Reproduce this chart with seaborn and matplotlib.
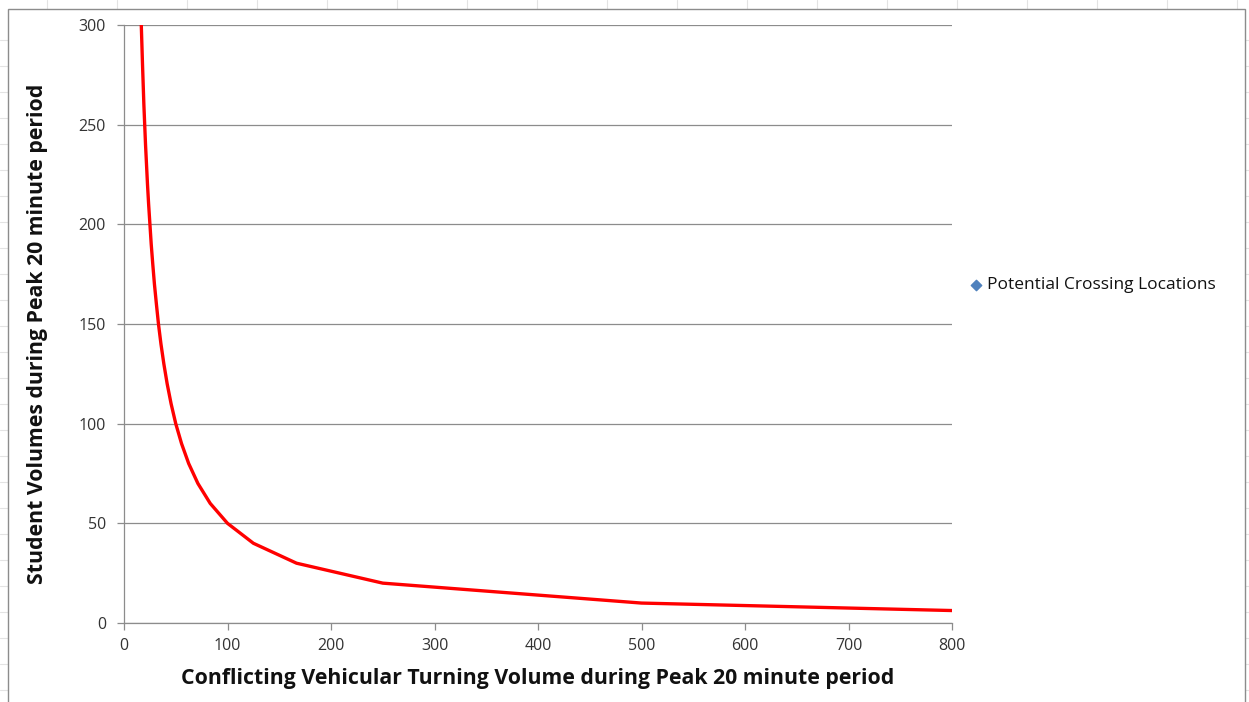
import matplotlib
matplotlib.use("Agg")
import matplotlib.pyplot as plt
import seaborn as sns
import pandas as pd
from matplotlib.patches import Rectangle
from matplotlib.lines import Line2D

# Data
turning_volume = [16.7, 17.9, 19.2, 20.0, 20.8, 22.7, 23.8, 26.3, 27.8, 29.4, 31.3, 33.3,
                  35.7, 38.5, 41.7, 45.5, 50.0, 55.6, 62.5, 71.4, 83.3, 100.0, 125.0,
                  166.7, 250.0, 500.0, 800.0]
student_volume = [300, 280, 260, 250, 240, 220, 210, 190, 180, 170, 160, 150,
                  140, 130, 120, 110, 100, 90, 80, 70, 60, 50, 40,
                  30, 20, 10, 6.25]
x_ticks = [0, 100, 200, 300, 400, 500, 600, 700, 800]
y_ticks = [0, 50, 100, 150, 200, 250, 300]
legend_label = "Potential Crossing Locations"
x_label = "Conflicting Vehicular Turning Volume during Peak 20 minute period"
y_label = "Student Volumes during Peak 20 minute period"

df = pd.DataFrame({"x": turning_volume, "y": student_volume})

sns.set_theme(style="white")
plt.rcParams["font.family"] = ["Open Sans", "DejaVu Sans"]

W, H = 1249, 702
fig = plt.figure(figsize=(W / 100, H / 100), dpi=100)
fig.patch.set_facecolor("white")

# Spreadsheet cell lines behind the chart
for px in range(47, W, 70):
    fig.add_artist(Line2D([px / W, px / W], [0, 1], color="#E3E3E3", lw=0.8, zorder=-3))
for py in range(40, H, 26):
    fig.add_artist(Line2D([0, 1], [1 - py / H, 1 - py / H], color="#E3E3E3", lw=0.8, zorder=-3))
# Chart area
fig.add_artist(Rectangle((8 / W, -0.01), (1245 - 8) / W, 1 - 9 / H + 0.01,
                         transform=fig.transFigure, facecolor="white",
                         edgecolor="#8C8C8C", lw=1.0, zorder=-2))

ax = fig.add_axes([124 / W, 1 - 623 / H, (952 - 124) / W, (623 - 25) / H])
ax.set_facecolor("none")

sns.lineplot(data=df, x="x", y="y", sort=False, color="#FF0000", linewidth=2.4,
             ax=ax, legend=False, zorder=3)
ax.scatter([], [], marker="D", s=28, color="#4F81BD", label=legend_label)

ax.set_xlim(0, 800)
ax.set_ylim(0, 300)
ax.set_xticks(x_ticks)
ax.set_yticks(y_ticks)
ax.yaxis.grid(True, color="#8C8C8C", lw=0.9)
ax.xaxis.grid(False)
ax.set_axisbelow(True)

for s in ["top", "right"]:
    ax.spines[s].set_visible(False)
for s in ["left", "bottom"]:
    ax.spines[s].set_color("#8C8C8C")
    ax.spines[s].set_linewidth(0.9)

ax.tick_params(axis="both", which="major", length=5, width=0.9, color="#8C8C8C",
               labelsize=11.5, labelcolor="#333333", direction="out", bottom=True, left=True)
ax.tick_params(axis="x", pad=6)
ax.tick_params(axis="y", pad=8)

ax.set_xlabel(x_label, fontsize=15.3, fontweight="bold", color="#111111", labelpad=10)
ax.set_ylabel(y_label, fontsize=15.3, fontweight="bold", color="#111111")
ax.yaxis.set_label_coords(-0.092, 0.483)

leg = ax.legend(loc="center left", bbox_to_anchor=(1.01, 0.565), frameon=False,
                fontsize=12.5, handletextpad=0.15, handlelength=1.0, borderaxespad=0)
for t in leg.get_texts():
    t.set_color("#111111")

fig.savefig("out.png", dpi=100, facecolor="white")
